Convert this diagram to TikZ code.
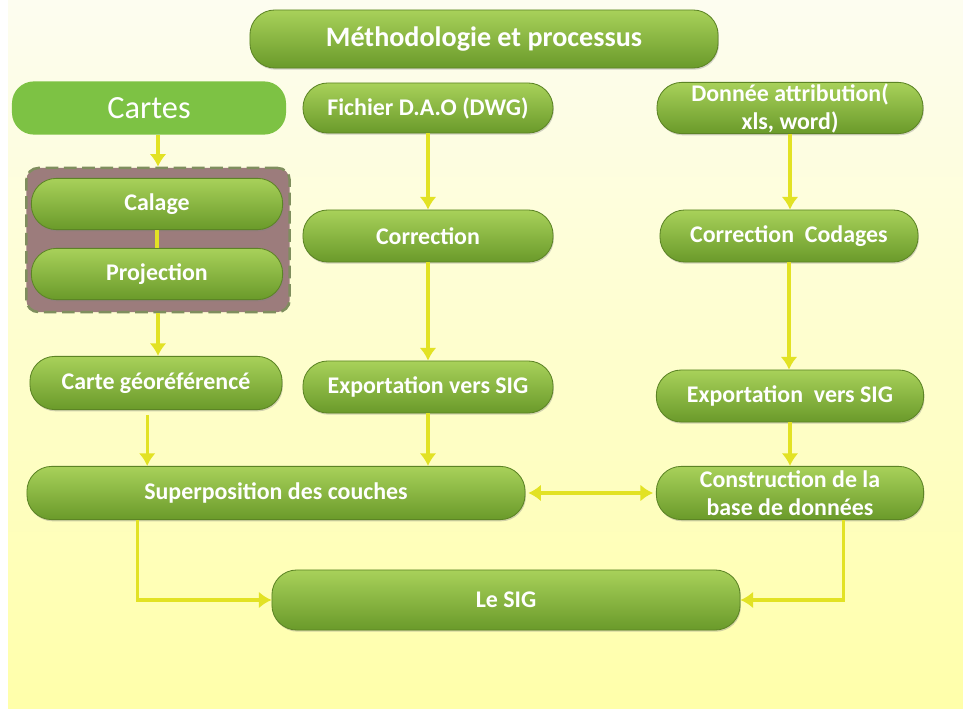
\documentclass[tikz,border=0pt]{standalone}
\usepackage{fontspec}
\setsansfont{Carlito}
\usetikzlibrary{arrows.meta,shadows}

\definecolor{boxtop}{HTML}{A8D15A}
\definecolor{boxbot}{HTML}{6A9A2A}
\definecolor{boxedge}{HTML}{5C8425}
\definecolor{flowyel}{HTML}{E2E224}
\definecolor{bgtop}{HTML}{FDFDF0}
\definecolor{bgbot}{HTML}{FFFFAA}
\definecolor{grpfill}{HTML}{9C7C7C}
\definecolor{grpedge}{HTML}{7F8E5E}
\definecolor{cartesgreen}{HTML}{7DC244}

\tikzset{
	box/.style={draw=boxedge, line width=0.6pt, top color=boxtop, bottom color=boxbot,
		rounded corners=0.62cm, text=white, align=center, inner sep=0pt,
		font=\sffamily\bfseries\fontsize{17}{20}\selectfont,
		drop shadow={opacity=0.35, shadow xshift=0.6pt, shadow yshift=-1.2pt}},
	tip/.tip={Latex[length=9pt,width=12pt]},
	flow/.style={draw=flowyel, line width=2.2pt, -tip},
	link/.style={draw=flowyel, line width=2.2pt},
}

\begin{document}
\begin{tikzpicture}[x=0.025cm, y=-0.025cm]
		\useasboundingbox (0,0) rectangle (963,716);
		% Background
		\fill[white] (0,0) rectangle (963,716);
		\shade[top color=bgtop, bottom color=bgbot] (8,0) rectangle (963,708);
		
		% Title
		\node[box, minimum width=11.7cm, minimum height=1.45cm, font=\sffamily\bfseries\fontsize{20}{24}\selectfont] (titre) at (484,39) {Méthodologie et processus};
		
		% Left column
		\node[fill=cartesgreen, rounded corners=0.55cm, minimum width=6.85cm, minimum height=1.33cm, text=white, inner sep=0pt, font=\sffamily\fontsize{23}{26}\selectfont] (cartes) at (149,108) {Cartes};
		\node[draw=grpedge, fill=grpfill, dash pattern=on 9pt off 4pt, line width=1.8pt, rounded corners=0.3cm, minimum width=6.58cm, minimum height=3.6cm] (grp) at (158,240) {};
		\node[box, minimum width=6.28cm, minimum height=1.28cm] (calage) at (157,204) {Calage};
		\node[box, minimum width=6.28cm, minimum height=1.28cm] (proj) at (157,274) {Projection};
		\node[box, minimum width=6.3cm, minimum height=1.33cm] (carte) at (156,383) {Carte géoréférencé};
		
		% Middle column
		\node[box, minimum width=6.25cm, minimum height=1.25cm] (fichier) at (428,108) {Fichier D.A.O (DWG)};
		\node[box, minimum width=6.25cm, minimum height=1.3cm] (corr) at (428,236) {Correction};
		\node[box, minimum width=6.25cm, minimum height=1.3cm] (exportm) at (428,387) {Exportation vers SIG};
		
		% Right column
		\node[box, minimum width=6.65cm, minimum height=1.28cm] (donnee) at (790,108) {Donnée attribution(\\xls, word)};
		\node[box, minimum width=6.45cm, minimum height=1.3cm] (codages) at (789,236) {Correction~ Codages};
		\node[box, minimum width=6.68cm, minimum height=1.3cm] (exportr) at (790,396) {Exportation~ vers SIG};
		\node[box, minimum width=6.68cm, minimum height=1.33cm] (constr) at (790,493) {Construction de la\\base de données};
		
		% Bottom
		\node[box, minimum width=12.45cm, minimum height=1.33cm] (superpos) at (276,493) {Superposition des couches};
		\node[box, minimum width=11.7cm, minimum height=1.5cm] (sig) at (506,600) {Le SIG};
		
		% Connectors
		\draw[flow] (grp.north |- cartes.south) -- (grp.north);
		\draw[link] (calage.south) -- (proj.north);
		\draw[flow] (grp.south) -- (grp.south |- carte.north);
		\draw[flow] ([xshift=-0.22cm, yshift=-0.12cm]carte.south) coordinate (c1) -- (c1 |- superpos.north);
		\draw[flow] (fichier.south) -- (corr.north);
		\draw[flow] (corr.south) -- (exportm.north);
		\draw[flow] (exportm.south) -- (exportm.south |- superpos.north);
		\draw[flow] (donnee.south) -- (donnee.south |- codages.north);
		\draw[flow] (codages.south) -- (codages.south |- exportr.north);
		\draw[flow] (exportr.south) -- (constr.north);
		\draw[flow, tip-tip, shorten <=2pt, shorten >=2pt] (superpos.east) -- (constr.west);
		\draw[flow] ([xshift=-3.47cm]superpos.south) |- (sig.west);
		\draw[flow] ([xshift=1.33cm]constr.south) |- (sig.east);
	\end{tikzpicture}
\end{document}
